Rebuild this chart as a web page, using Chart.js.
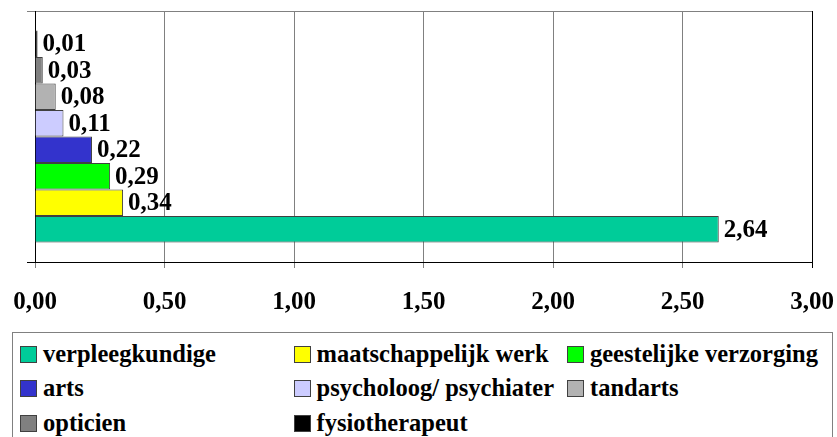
<!DOCTYPE html>
<html>
<head>
<meta charset="utf-8">
<script src="https://cdn.jsdelivr.net/npm/chart.js@4/dist/chart.umd.min.js"></script>
<style>
    html, body { margin: 0; padding: 0; background: #fff; }
    body { width: 837px; height: 437px; overflow: hidden; position: relative; font-family: "Liberation Serif", "Times New Roman", serif; }
    #wrap { position: absolute; left: 0; top: 0; width: 837px; height: 330px; }
    #legend { position: absolute; left: 12px; top: 332px; width: 821px; height: 120px; border: 1px solid #808080; box-sizing: border-box; }
    .item { position: absolute; display: flex; align-items: center; height: 24px; font-weight: bold; font-size: 24.5px; line-height: 1; color: #000; white-space: nowrap; }
    .swatch { width: 17px; height: 17px; box-sizing: border-box; border: 1px solid #404040; margin-right: 6px; flex: none; }
</style>
</head>
<body>
<div id="wrap"><canvas id="chart"></canvas></div>
<div id="legend"></div>
<script>
const categories = [''];
const seriesNames = ['verpleegkundige', 'maatschappelijk werk', 'geestelijke verzorging', 'arts', 'psycholoog/ psychiater', 'tandarts', 'opticien', 'fysiotherapeut'];
const seriesValues = [2.64, 0.34, 0.29, 0.22, 0.11, 0.08, 0.03, 0.01];
const seriesColors = ['#00CC99', '#FFFF00', '#00FF00', '#3333CC', '#CCCCFF', '#B2B2B2', '#808080', '#000000'];
const xMin = 0;
const xMax = 3;
const xStep = 0.5;

const FONT = '"Liberation Serif", "Times New Roman", serif';

function fmt(v) {
    return v.toFixed(2).replace('.', ',');
}

// labels at the end of each bar
const barLabels = {
    id: 'barLabels',
    afterDatasetsDraw(chart) {
        const ctx = chart.ctx;
        ctx.save();
        ctx.font = 'bold 25px ' + FONT;
        ctx.fillStyle = '#000';
        ctx.textBaseline = 'middle';
        ctx.textAlign = 'left';
        chart.data.datasets.forEach((ds, i) => {
            chart.getDatasetMeta(i).data.forEach((bar, j) => {
                ctx.fillText(fmt(ds.data[j]), bar.x + 5, bar.y + 1);
            });
        });
        ctx.restore();
    }
};

function buildLegend() {
    const box = document.getElementById('legend');
    const rowY = [354, 388.5, 423.5];
    seriesNames.forEach((name, i) => {
        const col = i % 3;
        const row = Math.floor(i / 3);
        const item = document.createElement('div');
        item.className = 'item';
        item.style.left = (20 + col * 273.5 - 13) + 'px';
        item.style.top = (rowY[row] - 12 - 333) + 'px';
        item.innerHTML = '<span class="swatch" style="background:' + seriesColors[i] + '"></span><span>' + name + '</span>';
        box.appendChild(item);
    });
}

document.addEventListener('DOMContentLoaded', () => {
    // first dataset is drawn on top, so feed them bottom-up reversed
    const datasets = seriesNames.map((name, i) => ({
        label: name,
        data: [seriesValues[i]],
        backgroundColor: seriesColors[i],
        borderColor: '#404040',
        borderWidth: 1,
        barPercentage: 1,
        categoryPercentage: 0.844,
    })).reverse();

    new Chart(document.getElementById('chart'), {
        type: 'bar',
        data: { labels: categories, datasets },
        options: {
            indexAxis: 'y',
            responsive: true,
            maintainAspectRatio: false,
            animation: false,
            layout: { padding: { top: 11, right: 25, left: 0, bottom: 0 } },
            plugins: {
                legend: { display: false },
                tooltip: { enabled: false },
            },
            scales: {
                x: {
                    min: xMin,
                    max: xMax,
                    afterFit(scale) {
                        scale.height = 68;
                        scale.paddingLeft = 0;
                        scale.paddingRight = 0;
                    },
                    ticks: {
                        stepSize: xStep,
                        padding: 20,
                        color: '#000',
                        font: { family: FONT, size: 25, weight: 'bold' },
                        callback: (v) => fmt(v),
                    },
                    grid: {
                        color: (c) => (c.tick && c.tick.value === xMax ? '#000' : '#808080'),
                        tickLength: 6,
                        lineWidth: 1,
                    },
                    border: { color: '#000', width: 1 },
                },
                y: {
                    afterFit(scale) {
                        scale.width = 35;
                        scale.paddingTop = 0;
                        scale.paddingBottom = 0;
                    },
                    ticks: { display: false },
                    grid: {
                        color: (c) => (c.index === 0 ? '#808080' : '#000'),
                        tickLength: 8,
                        lineWidth: 1,
                    },
                    border: { color: '#000', width: 1 },
                },
            },
        },
        plugins: [barLabels],
    });

    buildLegend();
});
</script>
</body>
</html>
